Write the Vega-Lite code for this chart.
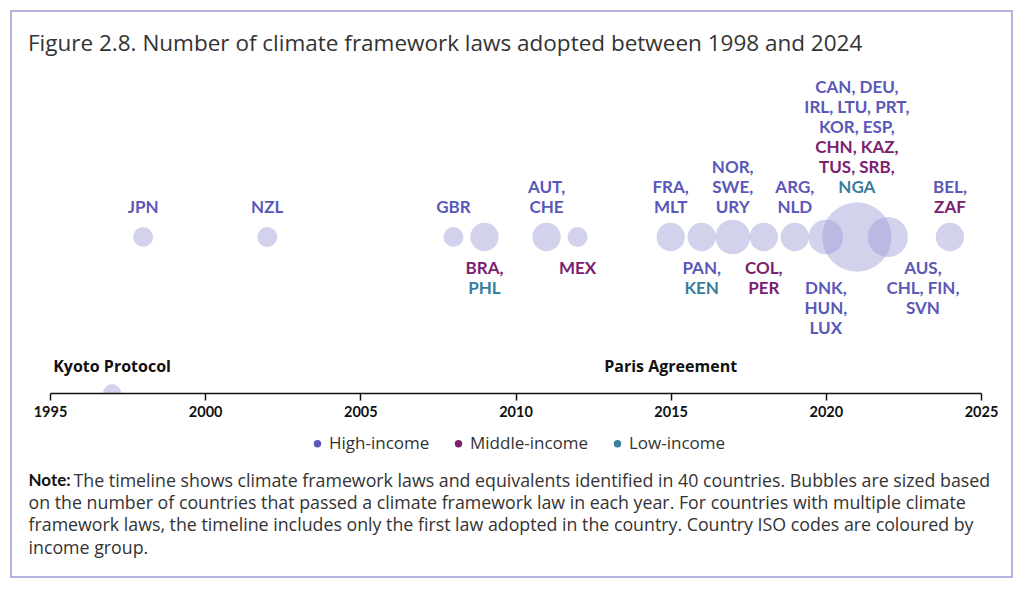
{
  "$schema": "https://vega.github.io/schema/vega-lite/v6.json",
  "width": 1001,
  "height": 566,
  "autosize": {"type": "none"},
  "padding": {"left": 11, "top": 11, "right": 12, "bottom": 14},
  "background": "white",
  "config": {
    "view": {"stroke": "#9b9bd6", "strokeWidth": 1.5},
    "font": "Lato"
  },
  "title": {
    "text": "Figure 2.8. Number of climate framework laws adopted between 1998 and 2024",
    "anchor": "start",
    "frame": "group",
    "offset": -62,
    "dx": 17,
    "fontSize": 22.5,
    "fontWeight": "normal",
    "color": "#333333",
    "font": "Open Sans",
    "baseline": "alphabetic"
  },
  "datasets": {
    "bubbles": [
      {"year": 1998, "n": 1}, {"year": 2002, "n": 1}, {"year": 2008, "n": 1},
      {"year": 2009, "n": 2}, {"year": 2011, "n": 2}, {"year": 2012, "n": 1},
      {"year": 2015, "n": 2}, {"year": 2016, "n": 2}, {"year": 2017, "n": 3},
      {"year": 2018, "n": 2}, {"year": 2019, "n": 2}, {"year": 2020, "n": 3},
      {"year": 2021, "n": 12}, {"year": 2022, "n": 4}, {"year": 2024, "n": 2}
    ],
    "labels": [
      {"year": 1998, "text": "JPN", "group": "High-income", "row": 1},
      {"year": 2002, "text": "NZL", "group": "High-income", "row": 1},
      {"year": 2008, "text": "GBR", "group": "High-income", "row": 1},
      {"year": 2009, "text": "BRA,", "group": "Middle-income", "row": -1},
      {"year": 2009, "text": "PHL", "group": "Low-income", "row": -2},
      {"year": 2011, "text": "AUT,", "group": "High-income", "row": 2},
      {"year": 2011, "text": "CHE", "group": "High-income", "row": 1},
      {"year": 2012, "text": "MEX", "group": "Middle-income", "row": -1},
      {"year": 2015, "text": "FRA,", "group": "High-income", "row": 2},
      {"year": 2015, "text": "MLT", "group": "High-income", "row": 1},
      {"year": 2016, "text": "PAN,", "group": "High-income", "row": -1},
      {"year": 2016, "text": "KEN", "group": "Low-income", "row": -2},
      {"year": 2017, "text": "NOR,", "group": "High-income", "row": 3},
      {"year": 2017, "text": "SWE,", "group": "High-income", "row": 2},
      {"year": 2017, "text": "URY", "group": "High-income", "row": 1},
      {"year": 2018, "text": "COL,", "group": "Middle-income", "row": -1},
      {"year": 2018, "text": "PER", "group": "Middle-income", "row": -2},
      {"year": 2019, "text": "ARG,", "group": "High-income", "row": 2},
      {"year": 2019, "text": "NLD", "group": "High-income", "row": 1},
      {"year": 2020, "text": "DNK,", "group": "High-income", "row": -2},
      {"year": 2020, "text": "HUN,", "group": "High-income", "row": -3},
      {"year": 2020, "text": "LUX", "group": "High-income", "row": -4},
      {"year": 2021, "text": "CAN, DEU,", "group": "High-income", "row": 7},
      {"year": 2021, "text": "IRL, LTU, PRT,", "group": "High-income", "row": 6},
      {"year": 2021, "text": "KOR, ESP,", "group": "High-income", "row": 5},
      {"year": 2021, "text": "CHN, KAZ,", "group": "Middle-income", "row": 4},
      {"year": 2021, "text": "TUS, SRB,", "group": "Middle-income", "row": 3},
      {"year": 2021, "text": "NGA", "group": "Low-income", "row": 2},
      {"year": 2022, "text": "AUS,", "group": "High-income", "row": -1},
      {"year": 2022, "text": "CHL, FIN,", "group": "High-income", "row": -2},
      {"year": 2022, "text": "SVN", "group": "High-income", "row": -3},
      {"year": 2024, "text": "BEL,", "group": "High-income", "row": 2},
      {"year": 2024, "text": "ZAF", "group": "Middle-income", "row": 1}
    ],
    "events": [
      {"year": 1997, "event": "Kyoto Protocol"},
      {"year": 2015, "event": "Paris Agreement"}
    ]
  },
  "layer": [
    {
      "data": {"name": "bubbles"},
      "mark": {"type": "circle", "color": "#9b9bd8", "opacity": 0.45},
      "encoding": {
        "x": {
          "field": "year", "type": "quantitative",
          "scale": {"domain": [1995, 2025], "range": [39, 970], "nice": false, "zero": false},
          "axis": {
            "orient": "bottom", "offset": -184,
            "values": [1995, 2000, 2005, 2010, 2015, 2020, 2025],
            "format": "d", "labelFont": "Lato", "labelFontWeight": "bold", "labelFontSize": 14.5,
            "labelColor": "#111111", "labelPadding": 5, "labelOverlap": false, "labelFlush": false,
            "tickColor": "#111111", "tickSize": 7, "tickWidth": 1.5,
            "domainColor": "#111111", "domainWidth": 1.5, "grid": false, "zindex": 1,
            "title": [
              "on the number of countries that passed a climate framework law in each year. For countries with multiple climate",
              "framework laws, the timeline includes only the first law adopted in the country. Country ISO codes are coloured by",
              "income group."
            ],
            "titleX": 17, "titleY": 101, "titleAlign": "left", "titleAnchor": "start",
            "titleBaseline": "top", "titleAngle": 0, "titleFont": "Open Sans", "titleFontSize": 17.8,
            "titleFontWeight": "normal", "titleColor": "#333333", "titleLineHeight": 22.5
          }
        },
        "y": {
          "datum": 0, "type": "quantitative",
          "scale": {"domain": [-17, 11.3], "nice": false, "zero": false},
          "axis": {
            "orient": "left", "domain": false, "ticks": false, "labels": false, "grid": false,
            "title": "Note:", "titleAngle": 0, "titleX": 17, "titleY": 461, "titleAlign": "left",
            "titleBaseline": "top", "titleFont": "Lato", "titleFontSize": 17, "titleFontWeight": "bold",
            "titleColor": "#111111"
          }
        },
        "size": {"field": "n", "type": "quantitative", "scale": {"domain": [0, 12], "range": [0, 4800]}, "legend": null}
      }
    },
    {
      "data": {"name": "events"},
      "mark": {"type": "arc", "radius": 9, "theta": -1.5708, "theta2": 1.5708, "color": "#d3d3ef"},
      "encoding": {
        "x": {"field": "year", "type": "quantitative"},
        "y": {"datum": -7.8, "type": "quantitative", "axis": null}
      }
    },
    {
      "data": {"name": "events"},
      "mark": {"type": "text", "font": "Open Sans", "fontWeight": "bold", "fontSize": 16, "color": "#111111"},
      "encoding": {
        "x": {"field": "year", "type": "quantitative"},
        "y": {"datum": -6.5, "type": "quantitative", "axis": null},
        "text": {"field": "event"}
      }
    },
    {
      "data": {"name": "labels"},
      "transform": [{"filter": "datum.row > 0"}],
      "mark": {"type": "text", "font": "Lato", "fontWeight": "bold", "fontSize": 17, "dy": -9},
      "encoding": {
        "x": {"field": "year", "type": "quantitative"},
        "y": {"field": "row", "type": "quantitative", "axis": null},
        "text": {"field": "text"},
        "color": {
          "field": "group", "type": "nominal",
          "scale": {"domain": ["High-income", "Middle-income", "Low-income"], "range": ["#5a58b8", "#7a2170", "#3a7d9c"]},
          "legend": {
            "orient": "none", "legendX": 298, "legendY": 424, "direction": "horizontal", "title": null,
            "symbolType": "circle", "symbolSize": 55, "symbolOpacity": 1, "symbolStrokeWidth": 0,
            "labelFont": "Open Sans", "labelFontSize": 17, "labelColor": "#333333", "columnPadding": 20, "labelOffset": 3
          }
        }
      }
    },
    {
      "data": {"name": "labels"},
      "transform": [{"filter": "datum.row < 0 && datum.year != 2022"}],
      "mark": {"type": "text", "font": "Lato", "fontWeight": "bold", "fontSize": 17, "dy": 12},
      "encoding": {
        "x": {"field": "year", "type": "quantitative"},
        "y": {
          "field": "row", "type": "quantitative",
          "axis": {
            "orient": "right", "domain": false, "ticks": false, "labels": false, "grid": false,
            "title": "The timeline shows climate framework laws and equivalents identified in 40 countries. Bubbles are sized based",
            "titleAngle": 0, "titleX": -939, "titleY": 461, "titleAlign": "left", "titleBaseline": "top",
            "titleFont": "Open Sans", "titleFontSize": 17.8, "titleFontWeight": "normal", "titleColor": "#333333"
          }
        },
        "text": {"field": "text"},
        "color": {"field": "group", "type": "nominal"}
      }
    },
    {
      "data": {"name": "labels"},
      "transform": [{"filter": "datum.year == 2022"}],
      "mark": {"type": "text", "font": "Lato", "fontWeight": "bold", "fontSize": 17, "dy": 12, "dx": 35},
      "encoding": {
        "x": {"field": "year", "type": "quantitative"},
        "y": {"field": "row", "type": "quantitative", "axis": null},
        "text": {"field": "text"},
        "color": {"field": "group", "type": "nominal"}
      }
    }
  ],
  "resolve": {"axis": {"y": "independent"}}
}
